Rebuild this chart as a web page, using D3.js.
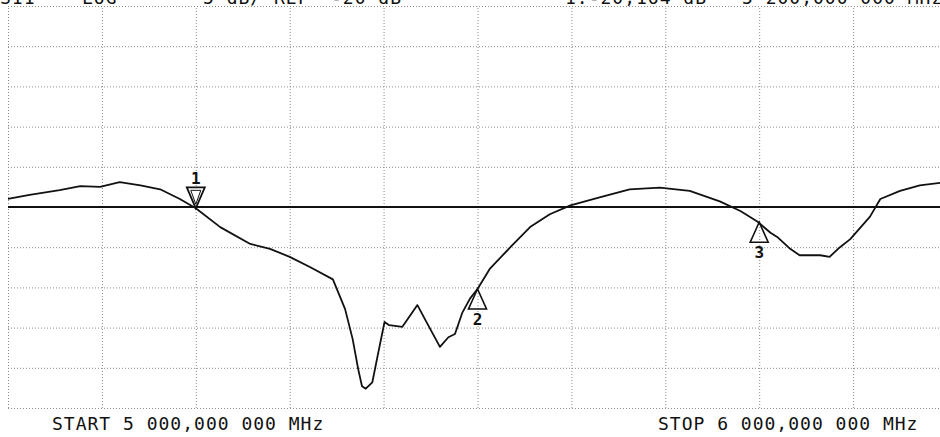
<!DOCTYPE html>
<html>
<head>
<meta charset="utf-8">
<script src="https://cdn.jsdelivr.net/npm/d3@7/dist/d3.min.js"></script>
<style>
  html, body { margin: 0; padding: 0; background: #fff; overflow: hidden; }
  svg { display: block; }
  text { font-family: "DejaVu Sans Mono", "Liberation Mono", monospace; fill: #111; }
</style>
</head>
<body>
<svg id="chart" width="940" height="437"></svg>
<script>
// ---- data ----
const freqMHz = [5000, 5023, 5055, 5077, 5098, 5119, 5141, 5162, 5183, 5200,
  5226, 5258, 5279, 5300, 5322, 5346, 5359, 5367, 5373, 5377, 5381, 5388, 5394, 5401,
  5406, 5420, 5436, 5447, 5460, 5469, 5476, 5484, 5492, 5500,
  5513, 5535, 5556, 5577, 5599, 5630, 5662, 5694, 5726, 5758, 5780, 5798, 5812,
  5820, 5833, 5843, 5865, 5875, 5884, 5897, 5918, 5929, 5950, 5971, 5993, 6000];
const s11dB = [-19.0, -18.5, -17.9, -17.4, -17.5, -16.9, -17.3, -17.8, -19.0, -20.16,
  -22.5, -24.6, -25.2, -26.2, -27.5, -29.0, -32.7, -36.4, -40.2, -42.3, -42.6, -41.8, -38.3, -34.3,
  -34.7, -34.9, -32.2, -34.6, -37.4, -36.2, -35.8, -33.1, -31.4, -30.2,
  -27.7, -25.0, -22.5, -20.9, -19.8, -18.8, -17.8, -17.6, -18.0, -19.3, -20.5, -21.8, -23.2,
  -23.8, -25.2, -26.0, -26.0, -26.2, -25.2, -24.0, -21.2, -19.0, -18.0, -17.3, -17.0, -17.0];
const markerFreq = [5200, 5500, 5800];
const markerDb = [-20.164, -30.2, -21.9];
const markerLabels = ["1", "2", "3"];
const xTicks = [5000, 5100, 5200, 5300, 5400, 5500, 5600, 5700, 5800, 5900, 6000];
const yTicks = [5, 0, -5, -10, -15, -20, -25, -30, -35, -40, -45];
const refLevel = -20;
const headerLeft = ["S11", "LOG", "5 dB/ REF", "-20 dB"];
const headerRight = ["1:-20,164 dB", "5 200,000 000 MHz"];
const footer = ["START 5 000,000 000 MHz", "STOP 6 000,000 000 MHz"];

// ---- drawing ----
const svg = d3.select("#chart");
const x = d3.scaleLinear().domain([5000, 6000]).range([8, 947]);
const y = d3.scaleLinear().domain([-45, 5]).range([408, 6]);

const gridColor = "#8a8a8a";
// vertical grid
svg.append("g").call(
  d3.axisBottom(x).tickValues(xTicks).tickSize(-(y(-45) - y(5))).tickFormat("")
).attr("transform", `translate(0,${y(-45)})`)
 .call(g => g.select(".domain").remove())
 .call(g => g.selectAll("line").attr("stroke", gridColor).attr("stroke-dasharray", "1,2"));
// horizontal grid
svg.append("g").call(
  d3.axisLeft(y).tickValues(yTicks).tickSize(-(x(6000) - x(5000))).tickFormat("")
).attr("transform", `translate(${x(5000)},0)`)
 .call(g => g.select(".domain").remove())
 .call(g => g.selectAll("line").attr("stroke", gridColor).attr("stroke-dasharray", "1,2"));

// reference line
svg.append("line")
  .attr("x1", x(5000)).attr("x2", x(6000))
  .attr("y1", y(refLevel)).attr("y2", y(refLevel))
  .attr("stroke", "#111").attr("stroke-width", 2);

// trace
const line = d3.line().x((d, i) => x(freqMHz[i])).y(d => y(d));
svg.append("path").datum(s11dB)
  .attr("d", line)
  .attr("fill", "none").attr("stroke", "#111").attr("stroke-width", 1.8)
  .attr("stroke-linejoin", "round");

// markers
markerFreq.forEach((f, i) => {
  const mx = x(f), my = y(markerDb[i]);
  const g = svg.append("g");
  if (i === 0) {
    g.append("path")
      .attr("d", `M${mx},${my} L${mx - 9},${my - 21} L${mx + 9},${my - 21} Z`)
      .attr("fill", "#fff").attr("stroke", "#111").attr("stroke-width", 1.8);
    g.append("path")
      .attr("d", `M${mx},${my - 4} L${mx - 5},${my - 18} L${mx + 5},${my - 18} Z`)
      .attr("fill", "none").attr("stroke", "#111").attr("stroke-width", 1);
    g.append("text").attr("x", mx).attr("y", my - 24)
      .attr("text-anchor", "middle").attr("font-size", 16).attr("font-weight", "bold")
      .text(markerLabels[i]);
  } else {
    g.append("path")
      .attr("d", `M${mx},${my} L${mx - 9},${my + 20} L${mx + 9},${my + 20} Z`)
      .attr("fill", "none").attr("stroke", "#111").attr("stroke-width", 1.6);
    g.append("text").attr("x", mx).attr("y", my + 36)
      .attr("text-anchor", "middle").attr("font-size", 16).attr("font-weight", "bold")
      .text(markerLabels[i]);
  }
});

// header (cut off at top as in reference)
const hx = [0, 82, 203, 331];
headerLeft.forEach((t, i) => {
  svg.append("text").attr("x", hx[i]).attr("y", 4)
    .attr("font-size", 18).attr("letter-spacing", 1).text(t);
});
const hrx = [565, 742];
headerRight.forEach((t, i) => {
  svg.append("text").attr("x", hrx[i]).attr("y", 4)
    .attr("font-size", 18).attr("letter-spacing", 1).text(t);
});
// footer
const fx = [52, 658];
footer.forEach((t, i) => {
  svg.append("text").attr("x", fx[i]).attr("y", 430)
    .attr("font-size", 18).attr("letter-spacing", 1).text(t);
});
</script>
</body>
</html>
